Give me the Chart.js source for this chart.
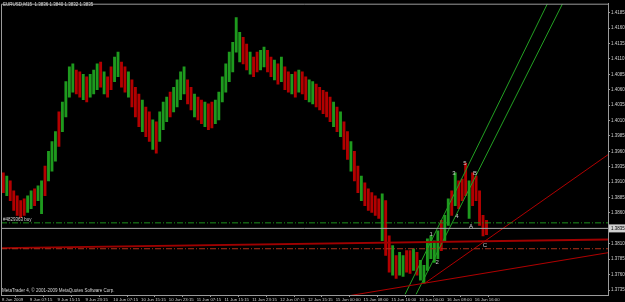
<!DOCTYPE html>
<html><head><meta charset="utf-8">
<script src="https://cdn.jsdelivr.net/npm/chart.js@4"></script>
<style>html,body{margin:0;padding:0;background:#000;overflow:hidden}#wrap{width:625px;height:302px}</style>
</head><body><div id="wrap"><canvas id="c" width="625" height="302"></canvas></div>
<script>
// ---------- DATA ----------
const symbolTitle = "EURUSD,M15  1.3836 1.3840 1.3832 1.3835";
const copyright = "MetaTrader 4, \u00A9 2001-2009 MetaQuotes Software Corp.";
const timeLabels = ["8 Jun 2009","9 Jun 07:15","9 Jun 15:15","9 Jun 23:15","10 Jun 07:15","10 Jun 15:15","10 Jun 23:15","11 Jun 07:15","11 Jun 15:15","11 Jun 23:15","12 Jun 07:15","12 Jun 15:15","15 Jun 00:00","15 Jun 08:00","15 Jun 16:00","16 Jun 00:00","16 Jun 08:00","16 Jun 16:00"];
const timeLabelBars = [0,32,64,96,128,160,192,224,256,288,320,352,384,416,448,480,512,544];
const priceTicks = [1.4185,1.4160,1.4135,1.4110,1.4085,1.4060,1.4035,1.4010,1.3985,1.3960,1.3935,1.3910,1.3885,1.3860,1.3835,1.3810,1.3785,1.3760,1.3735];
// hourly groups of M15 bars (bar index of first bar = 4*j)
const highs = [1.3925,1.3920,1.3912,1.3896,1.3888,1.3880,1.3883,1.3888,1.3896,1.3899,1.3904,1.3912,1.3936,1.3960,1.3976,1.3992,1.4024,1.4040,1.4073,1.4097,
1.4102,1.4092,1.4089,1.4085,1.4081,1.4085,1.4092,1.4102,1.4105,1.4089,1.4081,1.4097,1.4113,1.4121,1.4105,1.4097,1.4089,1.4076,1.4064,1.4053,
1.4043,1.4032,1.4024,1.4011,1.4008,1.4024,1.4040,1.4048,1.4056,1.4064,1.4076,1.4089,1.4097,1.4076,1.4064,1.4053,1.4048,1.4043,1.4040,1.4037,
1.4040,1.4043,1.4056,1.4081,1.4102,1.4121,1.4137,1.4177,1.4153,1.4145,1.4134,1.4121,1.4113,1.4121,1.4124,1.4129,1.4124,1.4113,1.4108,1.4102,
1.4113,1.4097,1.4089,1.4085,1.4089,1.4092,1.4089,1.4081,1.4076,1.4073,1.4069,1.4064,1.4059,1.4056,1.4048,1.4040,1.4032,1.4024,1.4008,1.3992,
1.3976,1.3960,1.3936,1.3920,1.3909,1.3899,1.3893,1.3888,1.3883,1.3891,1.3880,1.3823,1.3807,1.3791,1.3796,1.3791,1.3799,1.3799,1.3802,1.3796,
1.3783,1.3775,1.3818,1.3823,1.3815,1.3831,1.3848,1.3856,1.3883,1.3896,1.3925,1.3912,1.3915,1.3941,1.3912,1.3925,1.3920,1.3896,1.3856,1.3848];
const lows = [1.3893,1.3888,1.3880,1.3864,1.3856,1.3853,1.3856,1.3861,1.3867,1.3872,1.3880,1.3859,1.3888,1.3912,1.3928,1.3944,1.3968,1.3992,1.4016,1.4048,
1.4056,1.4053,1.4048,1.4044,1.4040,1.4048,1.4053,1.4060,1.4064,1.4053,1.4048,1.4060,1.4073,1.4081,1.4064,1.4056,1.4048,1.4032,1.4016,1.4000,
1.3992,1.3984,1.3976,1.3963,1.3957,1.3976,1.3995,1.4008,1.4016,1.4024,1.4032,1.4044,1.4053,1.4037,1.4027,1.4016,1.4011,1.4005,1.4000,1.3995,
1.3998,1.4005,1.4011,1.4040,1.4056,1.4073,1.4089,1.4121,1.4105,1.4102,1.4092,1.4085,1.4081,1.4089,1.4092,1.4097,1.4089,1.4081,1.4076,1.4069,
1.4073,1.4060,1.4056,1.4053,1.4048,1.4056,1.4053,1.4044,1.4040,1.4037,1.4032,1.4027,1.4021,1.4016,1.4008,1.4000,1.3992,1.3984,1.3963,1.3947,
1.3928,1.3912,1.3893,1.3880,1.3872,1.3864,1.3861,1.3856,1.3851,1.3815,1.3791,1.3764,1.3759,1.3754,1.3759,1.3757,1.3764,1.3762,1.3767,1.3759,
1.3751,1.3746,1.3767,1.3786,1.3780,1.3786,1.3799,1.3815,1.3840,1.3856,1.3872,1.3867,1.3880,1.3888,1.3851,1.3872,1.3880,1.3840,1.3823,1.3825];
const directions = "duddddduuduuduuuduuuudduduuududduuddudddudduduuuduuuudduddudduuuuuuuudduddu uddudu ddududduudddddududdudduddddduddu duudduduuuuuudu ududdd u".replace(/ /g,"");
const barsPerCandle = 4;

const bidPrice = 1.3835;
const orderPrice = 1.3844;
const orderLabel = "#4829363 buy";
const stopPrice = 1.3802;

const waveLabels = ["1","2","3","4","5","A","B","C"];
const waveBars   = [493.7,500.6,520.1,523.6,532.8,539.7,544.3,555.8];
const wavePrices = [1.3825,1.3780,1.39246,1.38539,1.39407,1.38379,1.39246,1.38073];

// trend lines: [bar, price] anchors
const redLongLine   = [[-2.3,1.3803],[697.3,1.3817]];
const redLowTrend   = [[389,1.37234],[699.6,1.37961]];
const redHighTrend  = [[486.8,1.37463],[699.6,1.39568]];
const greenChannelA = [[463.8,1.3728],[627.6,1.41995]];
const greenChannelB = [[476.5,1.3728],[645.0,1.41995]];

// ---------- CHART ----------
const xMin = -1.15, xMax = 697.3;
const yMin = 1.372696, yMax = 1.41995;
const GREEN = '#1e9a1e', RED = '#b30000';

const candleData = highs.map((h,j)=>({x: j*barsPerCandle + 1.5, y:[lows[j], h]}));
const candleColors = highs.map((h,j)=> directions[j]==='u' ? GREEN : RED);

function seg(pts){ return pts.map(p=>({x:p[0], y:p[1]})); }
function lineDs(pts,color,width,dash){
  return {type:'line', data:seg(pts), borderColor:color, borderWidth:width, borderDash:dash||[], pointRadius:0, tension:0, order:1, clip:0};
}

const overlay = {
  id:'overlay',
  beforeDraw(chart){
    const ctx=chart.ctx; ctx.save(); ctx.fillStyle='#000'; ctx.fillRect(0,0,chart.width,chart.height); ctx.restore();
  },
  afterDraw(chart){
    const {ctx, chartArea:a, scales:{x,y}} = chart;
    ctx.save();
    ctx.strokeStyle='#9a9a9a'; ctx.lineWidth=1;
    ctx.beginPath();
    ctx.moveTo(a.left+0.5, a.bottom); ctx.lineTo(a.left+0.5, a.top+0.5); ctx.lineTo(a.right, a.top+0.5);
    ctx.stroke();
    ctx.fillStyle='#d8d8d8';
    ctx.font='4.5px "Liberation Sans"';
    ctx.textBaseline='top'; ctx.textAlign='left';
    ctx.fillText(symbolTitle, 3, 3);
    ctx.textBaseline='bottom';
    ctx.fillText(copyright, 2, a.bottom-2);
    ctx.fillText(orderLabel, 3, y.getPixelForValue(orderPrice)-0.5);
    ctx.fillStyle='#c8c8c8';
    ctx.font='6px "Liberation Sans"';
    ctx.textAlign='center'; ctx.textBaseline='middle';
    waveLabels.forEach((t,i)=>ctx.fillText(t, x.getPixelForValue(waveBars[i]), y.getPixelForValue(wavePrices[i])));
    const by = y.getPixelForValue(bidPrice);
    ctx.fillStyle='#d0d0d0';
    ctx.fillRect(a.right+1, by-4, 16, 8);
    ctx.fillStyle='#000';
    ctx.font='4.5px "Liberation Sans"';
    ctx.textAlign='left';
    ctx.fillText(bidPrice.toFixed(4), a.right+3, by+0.5);
    ctx.restore();
  }
};

new Chart(document.getElementById('c'), {
  type:'bar',
  data:{ datasets:[
    {type:'bar', data:candleData, backgroundColor:candleColors, borderWidth:0, barThickness:2.2, grouped:false, order:10},
    lineDs([[xMin,bidPrice],[xMax,bidPrice]], '#a8a8a8', 1),
    lineDs([[xMin,orderPrice],[xMax,orderPrice]], '#1a8f1a', 1, [6,2,1,2]),
    lineDs([[xMin,stopPrice],[xMax,stopPrice]], '#b0301a', 1, [6,2,1,2]),
    lineDs(redLongLine, '#a00000', 1.8),
    lineDs(redLowTrend, '#b00000', 1),
    lineDs(redHighTrend, '#b00000', 1),
    lineDs(greenChannelA, '#22a022', 1),
    lineDs(greenChannelB, '#22a022', 1)
  ]},
  options:{
    responsive:false, animation:false, devicePixelRatio:1,
    layout:{padding:{left:1, top:1, right:0, bottom:0}},
    plugins:{legend:{display:false}, tooltip:{enabled:false}},
    scales:{
      x:{type:'linear', min:xMin, max:xMax, position:'bottom', offset:false,
        grid:{drawOnChartArea:false, drawTicks:true, tickLength:2, color:'#9a9a9a'},
        border:{display:true, color:'#9a9a9a'},
        afterBuildTicks(s){ s.ticks = timeLabelBars.map(v=>({value:v})); },
        afterFit(s){ s.height = 7; },
        ticks:{autoSkip:false, maxRotation:0, minRotation:0, align:'start', padding:0,
          color:'#d0d0d0', font:{family:'Liberation Sans', size:4.3},
          callback:(v,i)=>timeLabels[i]}
      },
      y:{type:'linear', min:yMin, max:yMax, position:'right',
        grid:{drawOnChartArea:false, drawTicks:true, tickLength:2, color:'#9a9a9a'},
        border:{display:true, color:'#9a9a9a'},
        afterBuildTicks(s){ s.ticks = priceTicks.map(v=>({value:v})); },
        afterFit(s){ s.width = 17; },
        ticks:{autoSkip:false, padding:1, color:'#d0d0d0', font:{family:'Liberation Sans', size:4.5},
          callback:(v)=>Number(v).toFixed(4)}
      }
    }
  },
  plugins:[overlay]
});
</script></body></html>
